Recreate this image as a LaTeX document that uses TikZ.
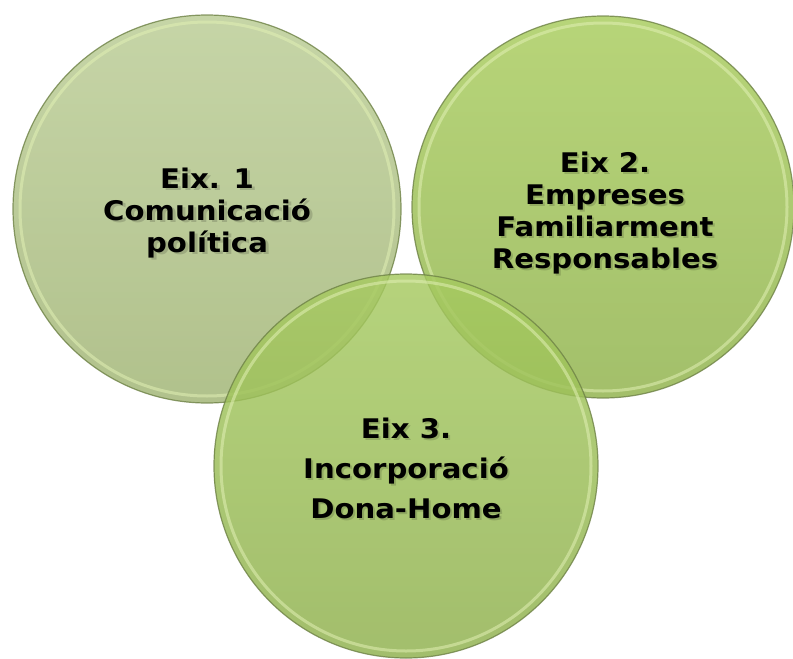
\documentclass[tikz,border=0pt]{standalone}
\usepackage{fontspec}
\setmainfont{DejaVu Sans}[BoldFeatures={FakeStretch=1.08}]
\usetikzlibrary{shadings,calc}
\definecolor{oneTop}{RGB}{186,204,148}
\definecolor{oneBot}{RGB}{160,180,115}
\definecolor{twoTop}{RGB}{168,204,92}
\definecolor{twoBot}{RGB}{143,178,74}
\definecolor{thrTop}{RGB}{166,202,96}
\definecolor{thrBot}{RGB}{142,176,76}
\definecolor{rimDark}{RGB}{110,130,70}
\definecolor{rimLight}{RGB}{225,240,180}
\tikzset{
  disc/.style={circle, inner sep=0pt, minimum size=#1},
  lbl/.style={font=\bfseries\fontsize{27}{32}\selectfont, align=center, text=black, anchor=base, inner sep=0pt},
  lblshadow/.style={lbl, text opacity=0.15},
  lblbig/.style={font=\bfseries\fontsize{27}{40}\selectfont},
}
\newcommand{\ballA}[4]{%
  \shade[top color=#3, bottom color=#4, fill opacity=0.82] #1 circle (#2);
  \draw[rimLight, line width=3pt, opacity=0.55] #1 circle ({#2-7});
  \draw[rimDark, line width=1.2pt, opacity=0.8] #1 circle (#2);
}
\begin{document}
\begin{tikzpicture}[x=1pt, y=-1pt]
\useasboundingbox (0,0) rectangle (793,659);
\fill[white] (0,0) rectangle (793,659);
\coordinate (c1) at (207,209);
\coordinate (c2) at (603,207);
\coordinate (c3) at (406,466);
\ballA{(c1)}{194}{oneTop}{oneBot}
\ballA{(c2)}{191}{twoTop}{twoBot}
\ballA{(c3)}{192}{thrTop}{thrBot}
\node[disc=388pt] (b1) at (c1) {};
\node[disc=382pt] (b2) at (c2) {};
\node[disc=384pt] (b3) at (c3) {};
% soft text shadows
\node[lblshadow] (s1) at ($(b1.center)+(3,45)$) {Eix. 1\\Comunicació\\política};
\node[lblshadow] (s2) at ($(b2.center)+(4,63)$) {Eix 2.\\Empreses\\Familiarment\\Responsables};
\node[lblshadow, lblbig] (s3) at ($(b3.center)+(2,54)$) {Eix 3.\\Incorporació\\Dona-Home};
% labels
\node[lbl] (t1) at ($(b1.center)+(0,43)$) {Eix. 1\\Comunicació\\política};
\node[lbl] (t2) at ($(b2.center)+(2,61)$) {Eix 2.\\Empreses\\Familiarment\\Responsables};
\node[lbl, lblbig] (t3) at ($(b3.center)+(0,52)$) {Eix 3.\\Incorporació\\Dona-Home};
\end{tikzpicture}
\end{document}
